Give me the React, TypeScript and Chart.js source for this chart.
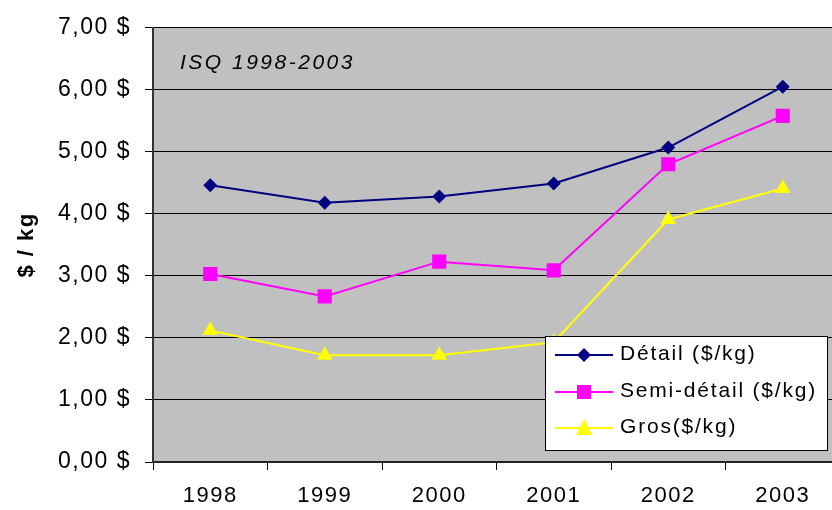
import React, { useEffect, useRef } from "react";
import { Chart, registerables } from "chart.js";

Chart.register(...registerables);

const years = ["1998", "1999", "2000", "2001", "2002", "2003"];
const detail = [4.46, 4.18, 4.28, 4.49, 5.07, 6.05];
const semiDetail = [3.03, 2.67, 3.23, 3.09, 4.8, 5.58];
const gros = [2.12, 1.72, 1.72, 1.93, 3.91, 4.41];
const seriesLabels = ["Détail ($/kg)", "Semi-détail ($/kg)", "Gros($/kg)"];
const subtitle = "ISQ 1998-2003";
const yTitle = "$ / kg";

const FONT = "'Liberation Sans', Arial, sans-serif";

export default function App() {
  const ref = useRef<HTMLCanvasElement | null>(null);

  useEffect(() => {
    document.body.style.margin = "0";
    document.documentElement.style.overflow = "hidden";
    const canvas = ref.current!;
    const bgPlugin = {
      id: "bg",
      beforeDraw(chart: any) {
        const { ctx, chartArea: a } = chart;
        ctx.letterSpacing = "1.5px";
        ctx.save();
        ctx.fillStyle = "#C0C0C0";
        ctx.fillRect(a.left, a.top, a.right - a.left, a.bottom - a.top);
        ctx.restore();
      },
      afterDraw(chart: any) {
        const { ctx, chartArea: a } = chart;
        ctx.save();
        ctx.letterSpacing = "2.5px";
        ctx.fillStyle = "#000";
        ctx.font = `italic 21px ${FONT}`;
        ctx.textBaseline = "alphabetic";
        ctx.textAlign = "left";
        ctx.fillText(subtitle, a.left + 27, a.top + 41);
        // legend box
        const bx = 545, by = 336, bw = 282, bh = 114;
        ctx.fillStyle = "#fff";
        ctx.fillRect(bx, by, bw, bh);
        ctx.strokeStyle = "#000";
        ctx.lineWidth = 1;
        ctx.strokeRect(bx + 0.5, by + 0.5, bw, bh);
        const rows = [355, 392, 428];
        ctx.letterSpacing = "1.8px";
        ctx.font = `21px ${FONT}`;
        chart.data.datasets.forEach((ds: any, i: number) => {
          const y = rows[i];
          ctx.strokeStyle = ds.borderColor;
          ctx.lineWidth = 2;
          ctx.beginPath();
          ctx.moveTo(555, y);
          ctx.lineTo(613, y);
          ctx.stroke();
          ctx.fillStyle = ds.backgroundColor;
          ctx.beginPath();
          if (ds.pointStyle === "rectRot") {
            ctx.moveTo(584, y - 7);
            ctx.lineTo(591, y);
            ctx.lineTo(584, y + 7);
            ctx.lineTo(577, y);
          } else if (ds.pointStyle === "rect") {
            ctx.rect(577, y - 7, 14, 14);
          } else {
            ctx.moveTo(584, y - 9);
            ctx.lineTo(592, y + 7);
            ctx.lineTo(576, y + 7);
          }
          ctx.closePath();
          ctx.fill();
          ctx.fillStyle = "#000";
          ctx.textBaseline = "middle";
          ctx.fillText(ds.label, 620, y - 1);
        });
        ctx.restore();
      },
    };

    const chart = new Chart(canvas, {
      type: "line",
      data: {
        labels: years,
        datasets: [
          {
            label: seriesLabels[0],
            data: detail,
            borderColor: "#000080",
            backgroundColor: "#000080",
            borderWidth: 2,
            pointStyle: "rectRot",
            pointRadius: 7,
            pointBorderWidth: 0,
          },
          {
            label: seriesLabels[1],
            data: semiDetail,
            borderColor: "#FF00FF",
            backgroundColor: "#FF00FF",
            borderWidth: 2,
            pointStyle: "rect",
            pointRadius: 10,
            pointBorderWidth: 0,
          },
          {
            label: seriesLabels[2],
            data: gros,
            borderColor: "#FFFF00",
            backgroundColor: "#FFFF00",
            borderWidth: 2,
            pointStyle: "triangle",
            pointRadius: 9,
            pointBorderWidth: 0,
          },
        ],
      },
      options: {
        responsive: false,
        animation: false,
        layout: { padding: { left: 0, right: 10, top: 27, bottom: 0 } },
        plugins: { legend: { display: false }, tooltip: { enabled: false } },
        scales: {
          x: {
            offset: true,
            grid: {
              offset: true,
              drawOnChartArea: false,
              drawTicks: true,
              tickLength: 8,
              color: "#000",
            },
            border: { color: "#222", width: 2 },
            ticks: {
              color: "#000",
              font: { family: FONT, size: 22 },
              padding: 13,
              maxRotation: 0,
            },
            afterFit: (s: any) => {
              s.height = 48;
            },
          },
          y: {
            min: 0,
            max: 7,
            ticks: {
              stepSize: 1,
              color: "#000",
              font: { family: FONT, size: 23 },
              padding: 14,
              callback: (v: any) => Number(v).toFixed(2).replace(".", ",") + " $",
            },
            grid: { color: "#000", lineWidth: 1, tickLength: 8 },
            border: { color: "#333", width: 2 },
            title: {
              display: true,
              text: yTitle,
              color: "#000",
              font: { family: FONT, size: 22, weight: "bold" },
              padding: { top: 14, bottom: 0 },
            },
            afterFit: (s: any) => {
              s.width = 153;
            },
          },
        },
      },
      plugins: [bgPlugin],
    });
    return () => chart.destroy();
  }, []);

  return (
    <div style={{ width: 832, height: 510, overflow: "hidden" }}>
      <canvas ref={ref} width={850} height={510} style={{ display: "block" }} />
    </div>
  );
}
